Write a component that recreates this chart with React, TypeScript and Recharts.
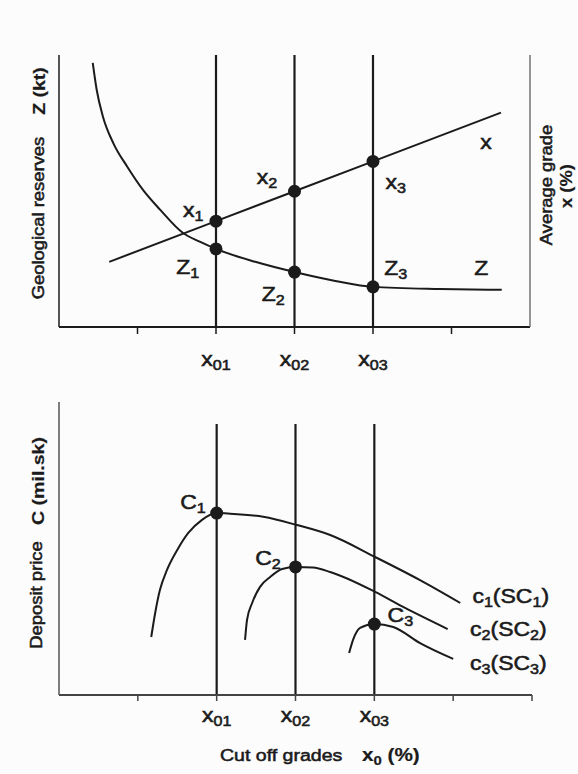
import React from "react";
import { ComposedChart, Line, Scatter, XAxis, YAxis, ReferenceLine } from "recharts";

const FONT = "'Liberation Sans', Arial, Helvetica, sans-serif";
const INK = "#1b1b1b";

// ---- shared x axis (cut-off grades) ----
const topTicks = [1, 2, 3, 4, 5];
const bottomTicks = [1, 2, 3, 4, 5, 6];
const cutoffGrades = [2, 3, 4];
const cutoffLabels = ["x_01", "x_02", "x_03"];

// ---- top panel: geological reserves Z and average grade x ----
const reservesZ = [
  { x: 0.43, y: 98.1 },
  { x: 0.48, y: 88.1 },
  { x: 0.56, y: 78.1 },
  { x: 0.69, y: 68.4 },
  { x: 0.87, y: 59.5 },
  { x: 1.07, y: 50.9 },
  { x: 1.29, y: 43.5 },
  { x: 1.58, y: 34.9 },
  { x: 1.8, y: 31.6 },
  { x: 2.0, y: 29.0 },
  { x: 2.5, y: 24.2 },
  { x: 3.0, y: 20.4 },
  { x: 3.52, y: 17.1 },
  { x: 4.0, y: 14.9 },
  { x: 4.85, y: 14.1 },
  { x: 5.64, y: 13.8 },
];
const averageGradeX = [
  { x: 0.64, y: 24.2 },
  { x: 2.0, y: 39.3 },
  { x: 3.0, y: 50.4 },
  { x: 4.0, y: 61.5 },
  { x: 5.63, y: 79.6 },
];
const zPoints = [
  { x: 2, y: 29.0 },
  { x: 3, y: 20.4 },
  { x: 4, y: 14.9 },
];
const xPoints = [
  { x: 2, y: 39.3 },
  { x: 3, y: 50.4 },
  { x: 4, y: 61.5 },
];
const topLabels = [
  { label: "x_1", x: 1.71, y: 43.5 },
  { label: "x_2", x: 2.65, y: 55.8 },
  { label: "x_3", x: 4.29, y: 53.9 },
  { label: "x", x: 5.44, y: 68.8 },
  { label: "Z_1", x: 1.64, y: 22.3 },
  { label: "Z_2", x: 2.73, y: 12.3 },
  { label: "Z_3", x: 4.29, y: 21.9 },
  { label: "Z", x: 5.38, y: 21.9 },
];

// ---- bottom panel: deposit price C ----
const priceC1 = [
  { x: 1.17, y: 19.8 },
  { x: 1.22, y: 28.0 },
  { x: 1.28, y: 35.8 },
  { x: 1.37, y: 42.7 },
  { x: 1.5, y: 49.5 },
  { x: 1.64, y: 55.3 },
  { x: 1.81, y: 59.7 },
  { x: 2.0, y: 62.1 },
  { x: 2.17, y: 61.9 },
  { x: 2.59, y: 60.8 },
  { x: 3.02, y: 58.0 },
  { x: 3.44, y: 54.6 },
  { x: 4.01, y: 47.1 },
  { x: 4.58, y: 39.2 },
  { x: 5.09, y: 31.4 },
];
const priceC2 = [
  { x: 2.36, y: 18.8 },
  { x: 2.385, y: 25.6 },
  { x: 2.45, y: 31.4 },
  { x: 2.55, y: 36.9 },
  { x: 2.68, y: 40.3 },
  { x: 2.83, y: 43.0 },
  { x: 3.0, y: 43.7 },
  { x: 3.22, y: 43.5 },
  { x: 3.44, y: 42.0 },
  { x: 4.01, y: 35.2 },
  { x: 4.39, y: 29.7 },
  { x: 4.93, y: 22.5 },
];
const priceC3 = [
  { x: 3.68, y: 14.3 },
  { x: 3.73, y: 18.8 },
  { x: 3.82, y: 22.9 },
  { x: 4.0, y: 24.2 },
  { x: 4.24, y: 23.2 },
  { x: 4.58, y: 17.7 },
  { x: 5.0, y: 12.3 },
];
const cPoints = [
  { x: 2, y: 62.1 },
  { x: 3, y: 43.7 },
  { x: 4, y: 24.2 },
];
const bottomLabels = [
  { label: "C_1", x: 1.7, y: 65.9 },
  { label: "C_2", x: 2.65, y: 46.8 },
  { label: "C_3", x: 4.33, y: 27.3 },
  { label: "c_1(SC_1)", x: 5.73, y: 33.8 },
  { label: "c_2(SC_2)", x: 5.7, y: 22.5 },
  { label: "c_3(SC_3)", x: 5.7, y: 10.9 },
];

// ---- text helpers ----
type Part = { t: string; sub: boolean };
function parse(s: string): Part[] {
  const parts: Part[] = [];
  const re = /_(\d+)/g;
  let last = 0;
  let m: RegExpExecArray | null;
  while ((m = re.exec(s))) {
    if (m.index > last) parts.push({ t: s.slice(last, m.index), sub: false });
    parts.push({ t: m[1], sub: true });
    last = m.index + m[0].length;
  }
  if (last < s.length) parts.push({ t: s.slice(last), sub: false });
  return parts;
}

function Txt(props: {
  x: number;
  y: number;
  text: string;
  size: number;
  bold?: boolean;
  rotate?: number;
  anchor?: "start" | "middle" | "end";
  sx?: number;
}) {
  const { x, y, text, size, bold, rotate, anchor = "middle", sx = 1.15 } = props;
  const parts = parse(text);
  const subSize = Math.round(size * 0.7);
  const shift = size * 0.22;
  let lowered = false;
  return (
    <text
      transform={`translate(${x},${y})${rotate ? ` rotate(${rotate})` : ""} scale(${sx},1)`}
      x={0}
      y={0}
      textAnchor={anchor}
      fontFamily={FONT}
      fontSize={size}
      fontWeight={bold ? "bold" : "normal"}
      fill={INK}
      stroke={INK}
      strokeWidth={bold ? 0.2 : 0.55}
    >
      {parts.map((p, i) => {
        let dy = 0;
        if (p.sub && !lowered) {
          dy = shift;
          lowered = true;
        } else if (!p.sub && lowered) {
          dy = -shift;
          lowered = false;
        }
        return (
          <tspan key={i} dy={dy} fontSize={p.sub ? subSize : size}>
            {p.t}
          </tspan>
        );
      })}
    </text>
  );
}

const makeTick = (offset: number) => (p: any) => {
  const i = cutoffGrades.indexOf(p.payload?.value);
  if (i < 0) return <g />;
  return <Txt x={p.x} y={p.y + offset} text={cutoffLabels[i]} size={20} />;
};

const labelShape = (p: any) => (
  <Txt x={p.cx} y={p.cy + 7} text={p.payload?.label ?? ""} size={20} />
);
const dotShape = (p: any) => <circle cx={p.cx} cy={p.cy} r={6.5} fill={INK} />;

const TopLeftTitle = () => (
  <g>
    <Txt x={44} y={218} text="Geological reserves" size={16} rotate={-90} />
    <Txt x={45} y={91} text="Z (kt)" size={17} bold rotate={-90} />
  </g>
);
const TopRightTitle = () => (
  <g>
    <Txt x={552} y={185} text="Average grade" size={16} rotate={-90} />
    <Txt x={572} y={186} text="x (%)" size={16} bold rotate={-90} />
  </g>
);
const BottomLeftTitle = () => (
  <g>
    <Txt x={42} y={215} text="Deposit price" size={16} rotate={-90} />
    <Txt x={44} y={101} text="C (mil.sk)" size={17} bold rotate={-90} />
  </g>
);
const BottomXTitle = () => (
  <g>
    <Txt x={220} y={381} text="Cut off grades" size={17} anchor="start" />
    <Txt x={362} y={381} text="x_0 (%)" size={18} bold anchor="start" />
  </g>
);

const guideTop = 92.5;

export default function App() {
  return (
    <div
      style={{
        position: "absolute",
        left: 0,
        top: 0,
        width: 578,
        height: 774,
        background: "#fcfcfc",
        display: "flex",
        flexDirection: "column",
      }}
    >
      <ComposedChart width={578} height={380} margin={{ top: 55, right: 0, bottom: 0, left: 0 }}>
        <XAxis
          dataKey="x"
          type="number"
          domain={[0, 6]}
          ticks={topTicks}
          interval={0}
          height={53}
          tickSize={7}
          tickLine={{ stroke: INK, strokeWidth: 1.5 }}
          axisLine={{ stroke: INK, strokeWidth: 2 }}
          tick={makeTick(30)}
        />
        <YAxis
          dataKey="y"
          type="number"
          domain={[0, 101]}
          width={59}
          tick={false}
          tickLine={false}
          axisLine={{ stroke: "#2a2a2a", strokeWidth: 1.6 }}
          label={<TopLeftTitle />}
        />
        <YAxis
          yAxisId="r"
          orientation="right"
          type="number"
          domain={[0, 101]}
          width={48}
          tick={false}
          tickLine={false}
          axisLine={{ stroke: "#6a6a6a", strokeWidth: 1.4 }}
          label={<TopRightTitle />}
        />
        {cutoffGrades.map((g) => (
          <ReferenceLine key={g} x={g} stroke={INK} strokeWidth={2.2} />
        ))}
        <Line data={reservesZ} dataKey="y" type="monotone" stroke={INK} strokeWidth={2} dot={false} activeDot={false} isAnimationActive={false} />
        <Line data={averageGradeX} dataKey="y" type="linear" stroke={INK} strokeWidth={2} dot={false} activeDot={false} isAnimationActive={false} />
        <Scatter data={zPoints} dataKey="y" shape={dotShape} isAnimationActive={false} />
        <Scatter data={xPoints} dataKey="y" shape={dotShape} isAnimationActive={false} />
        <Scatter data={topLabels} dataKey="y" shape={labelShape} isAnimationActive={false} />
      </ComposedChart>

      <ComposedChart width={578} height={394} margin={{ top: 22, right: 46, bottom: 0, left: 0 }}>
        <XAxis
          dataKey="x"
          type="number"
          domain={[0, 6]}
          ticks={bottomTicks}
          interval={0}
          height={79}
          tickSize={6}
          tickLine={{ stroke: "#444", strokeWidth: 1.5 }}
          axisLine={{ stroke: "#444", strokeWidth: 2 }}
          tick={makeTick(19)}
          label={<BottomXTitle />}
        />
        <YAxis
          dataKey="y"
          type="number"
          domain={[0, 100]}
          width={59}
          tick={false}
          tickLine={false}
          axisLine={{ stroke: "#555", strokeWidth: 1.5 }}
          label={<BottomLeftTitle />}
        />
        {cutoffGrades.map((g) => (
          <ReferenceLine
            key={g}
            segment={[
              { x: g, y: 0 },
              { x: g, y: guideTop },
            ]}
            stroke={INK}
            strokeWidth={2.2}
          />
        ))}
        <Line data={priceC1} dataKey="y" type="monotone" stroke={INK} strokeWidth={2} dot={false} activeDot={false} isAnimationActive={false} />
        <Line data={priceC2} dataKey="y" type="monotone" stroke={INK} strokeWidth={2} dot={false} activeDot={false} isAnimationActive={false} />
        <Line data={priceC3} dataKey="y" type="monotone" stroke={INK} strokeWidth={2} dot={false} activeDot={false} isAnimationActive={false} />
        <Scatter data={cPoints} dataKey="y" shape={dotShape} isAnimationActive={false} />
        <Scatter data={bottomLabels} dataKey="y" shape={labelShape} isAnimationActive={false} />
      </ComposedChart>
    </div>
  );
}
